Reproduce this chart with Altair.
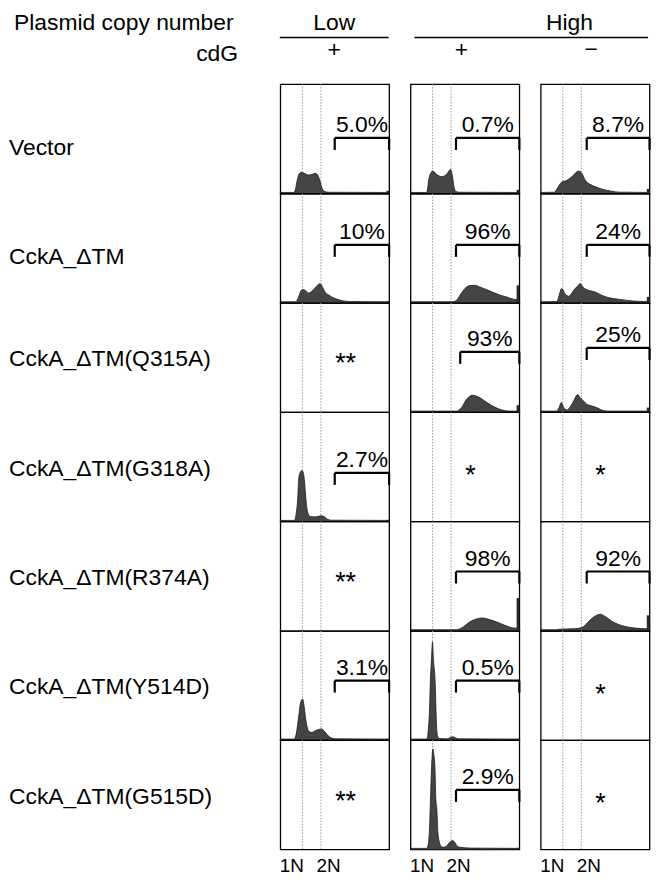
import altair as alt
import pandas as pd

# ------------------------------------------------------------------ data
STRAINS = ["Vector", "CckA_ΔTM", "CckA_ΔTM(Q315A)", "CckA_ΔTM(G318A)",
           "CckA_ΔTM(R374A)", "CckA_ΔTM(Y514D)", "CckA_ΔTM(G515D)"]
CONDITIONS = ["Low +", "High +", "High −"]
COPY_NUMBER = ["Low", "High"]
CDG = ["+", "+", "−"]
PLOIDY_LABELS = ["1N", "2N"]
PLOIDY_POS = [20.3, 37.3]          # DNA content of 1N / 2N (% of channel range)

# % of cells above the gate (or * / ** when not measured)
RESULT_LOW_PLUS = ["5.0%", "10%", "**", "2.7%", "**", "3.1%", "**"]
RESULT_HIGH_PLUS = ["0.7%", "96%", "93%", "*", "98%", "0.5%", "2.9%"]
RESULT_HIGH_MINUS = ["8.7%", "24%", "25%", "*", "92%", "*", "*"]

# gate start (DNA content) and gate bracket level (% of panel height)
GATE_LOW_PLUS = [50, 50, None, 50, None, 50, None]
GATE_HIGH_PLUS = [41.8, 41.8, 45.7, None, 41.8, 41.8, 41.8]
GATE_HIGH_MINUS = [42.3, 42.3, 42.3, None, 42.3, None, None]
LEVEL_LOW_PLUS = [50.9, 53.1, None, 44.5, None, 54.5, None]
LEVEL_HIGH_PLUS = [50.9, 53.1, 55.2, None, 54.3, 54.5, 54.5]
LEVEL_HIGH_MINUS = [50.9, 53.1, 58.8, None, 54.3, None, None]

# events piled up in the last channel (relative count)
OVERFLOW_LOW_PLUS = [2.5, 1.5, None, 1.5, None, 1.2, None]
OVERFLOW_HIGH_PLUS = [3.4, 16, 6.4, None, 30, 0, 1.5]
OVERFLOW_HIGH_MINUS = [4.2, 5.5, 4.2, None, 14.2, None, None]

# DNA-content histograms: x = DNA content, y = relative cell count
VEC_LP_X = [0, 12, 13.5, 15.5, 17, 19.3, 22, 26, 29, 32, 34, 36, 38, 40.5, 44, 100]
VEC_LP_Y = [1, 1, 2.5, 12, 17.5, 19.4, 18.5, 17, 17.5, 18.5, 17.5, 13, 6, 2, 1.2, 1]
VEC_HP_X = [0, 14.5, 15.5, 17, 18.5, 20.6, 24, 28.8, 33, 36.9, 38.5, 40, 41.5, 45, 100]
VEC_HP_Y = [1, 1, 3, 14, 18.5, 20.6, 17.5, 15.5, 17.5, 22.1, 16, 6, 2, 1.2, 1]
VEC_HM_X = [0, 12, 13.8, 16, 18.3, 19.8, 22.8, 28.8, 34.8, 37.8, 40.8, 45.3, 49.8, 55.9, 65, 72, 100]
VEC_HM_Y = [1, 1.2, 2.4, 6, 9.4, 10.9, 11.5, 15.5, 20.6, 18.5, 12.4, 8.5, 6.4, 4.2, 2.2, 1.3, 1]

DTM_LP_X = [0, 14, 15.5, 17, 19.3, 21.4, 24, 26, 30, 33, 36.5, 39, 41, 44, 47, 53, 58, 65, 100]
DTM_LP_Y = [1, 1, 2.5, 6, 11.5, 12.2, 10.5, 9.1, 11.5, 15, 17.6, 14, 10, 7.5, 5.5, 3.1, 1.8, 1.2, 1]
DTM_HP_X = [0, 38, 40.9, 42.4, 45.5, 50, 54.5, 59, 63.6, 69.7, 75.7, 81.8, 87.8, 92.4, 97, 100]
DTM_HP_Y = [1, 1, 1.5, 2.4, 7, 13.1, 15.8, 16.1, 14.6, 12.2, 9.7, 7.3, 5.5, 4, 3, 3]
DTM_HM_X = [0, 14.5, 16, 17.5, 19.2, 20.5, 22.5, 25.8, 28, 30.3, 33.5, 36.3, 39.3, 43.8, 49.8,
            55.9, 61.9, 70.9, 80, 90, 100]
DTM_HM_Y = [1, 1.2, 3.5, 9, 13.1, 12, 8, 6.1, 8, 11.5, 15, 17.6, 14, 11.5, 10,
            7, 4.9, 3.4, 2.2, 1.4, 1.2]

Q315A_HP_X = [0, 42, 44, 46.9, 51.5, 56.9, 62.1, 68.2, 74.2, 80.3, 86.4, 92, 100]
Q315A_HP_Y = [1, 1, 1.5, 4.2, 11.8, 15.5, 14.2, 10.3, 6.4, 3.3, 1.5, 1, 1]
Q315A_HM_X = [0, 14.5, 16.8, 18.9, 21.3, 24.3, 27.3, 30.3, 33.9, 36.3, 39.3, 42.3, 46.8, 51.4, 55.9, 62, 100]
Q315A_HM_Y = [1, 1, 4, 8.8, 4.2, 2.1, 5.2, 10.3, 16.1, 13.3, 10.3, 7.3, 5.8, 4.2, 2.1, 1, 1]

G318A_LP_X = [0, 13, 14.8, 16, 16.9, 18.3, 19.9, 21.3, 22, 23.5, 25, 27.5, 32, 36, 38, 41, 43.5, 47, 100]
G318A_LP_Y = [1, 1, 8.8, 20.9, 39, 45, 46.6, 44, 39, 20.9, 8.8, 4.5, 4.2, 5, 5.2, 4, 2, 1.2, 1]

R374A_HP_X = [0, 42, 43.9, 48.5, 54.5, 60.6, 66, 72.7, 78.8, 84.8, 90.9, 95, 100]
R374A_HP_Y = [1, 1, 1.3, 3.6, 8.2, 10.9, 11.8, 10.3, 8.2, 5.8, 3.6, 2.5, 2.3]
R374A_HM_X = [0, 14, 16.8, 31.8, 37.8, 42.3, 46.8, 51.4, 55, 58.9, 64.9, 70.9, 76.9, 82.9, 91.9, 100]
R374A_HM_Y = [1, 1, 1.5, 2, 3, 6.7, 11.2, 14.2, 15.2, 13.3, 9.1, 6.1, 4.2, 3, 2.1, 1.8]

Y514D_LP_X = [0, 12.5, 14.8, 16.9, 18.6, 20.5, 22, 23, 26, 29, 32, 35, 38, 41, 44, 47, 52, 100]
Y514D_LP_Y = [1, 1, 6.7, 21.8, 34, 37.6, 30, 21.8, 8.5, 7, 8.5, 9.7, 10.3, 7.5, 4, 2, 1.2, 1]
Y514D_HP_X = [0, 14.5, 15.5, 16.5, 17.5, 18.2, 19.3, 20.2, 21, 22.7, 23.4, 24, 25, 26.5,
              34, 36.5, 39, 41.5, 44, 100]
Y514D_HP_Y = [1, 1, 2, 12, 27.9, 52, 75, 90, 75, 52, 27.9, 12, 3.3, 1.5,
              1.2, 2.5, 3, 2, 1.2, 1]

G515D_HP_X = [0, 14.5, 15.8, 16.6, 17.5, 18.2, 19.4, 20.6, 21.3, 22.4, 23.3, 24.2, 25.2, 26.6,
              28.5, 30.3, 33, 36, 38.7, 41, 43, 45.5, 55, 66, 100]
G515D_HP_Y = [1, 1, 3, 6.6, 20, 40, 76, 92, 88, 76, 46, 37, 15, 6.6,
              2.5, 2.1, 3, 6.5, 8.2, 6, 3, 2, 1.3, 1.2, 1]

HISTOGRAMS = [
    (STRAINS[0], CONDITIONS[0], VEC_LP_X, VEC_LP_Y),
    (STRAINS[0], CONDITIONS[1], VEC_HP_X, VEC_HP_Y),
    (STRAINS[0], CONDITIONS[2], VEC_HM_X, VEC_HM_Y),
    (STRAINS[1], CONDITIONS[0], DTM_LP_X, DTM_LP_Y),
    (STRAINS[1], CONDITIONS[1], DTM_HP_X, DTM_HP_Y),
    (STRAINS[1], CONDITIONS[2], DTM_HM_X, DTM_HM_Y),
    (STRAINS[2], CONDITIONS[1], Q315A_HP_X, Q315A_HP_Y),
    (STRAINS[2], CONDITIONS[2], Q315A_HM_X, Q315A_HM_Y),
    (STRAINS[3], CONDITIONS[0], G318A_LP_X, G318A_LP_Y),
    (STRAINS[4], CONDITIONS[1], R374A_HP_X, R374A_HP_Y),
    (STRAINS[4], CONDITIONS[2], R374A_HM_X, R374A_HM_Y),
    (STRAINS[5], CONDITIONS[0], Y514D_LP_X, Y514D_LP_Y),
    (STRAINS[5], CONDITIONS[1], Y514D_HP_X, Y514D_HP_Y),
    (STRAINS[6], CONDITIONS[1], G515D_HP_X, G515D_HP_Y),
]

# ------------------------------------------------------------------ layout / style
FONT = "Liberation Sans"
PANEL_W = 109.5
PANEL_H = 110
COL_GAP = 21
LABEL_W = 272.5
HEADER_H = 73
TEXT_SIZE = 23
HEADER_SIZE = 23
AXIS_SIZE = 19
AXIS_PAD = 7
TICK_LEN = 11          # bracket tick length, % of panel height
EDGE_X0 = 97.5         # start of the last-channel bar
CHANNEL_MAX = 100
MID = (PLOIDY_POS[0] + PLOIDY_POS[1]) / 2
TOTAL_W = LABEL_W + 3 * PANEL_W + 2 * COL_GAP
LABEL_DROP_TOP = 16    # baseline drop below row centre, first two rows
LABEL_DROP = 9         # baseline drop below row centre, other rows


def col_left(i):
    return LABEL_W + i * (PANEL_W + COL_GAP)


def col_center(i):
    return col_left(i) + PANEL_W / 2


# ------------------------------------------------------------------ table
rows = []
for strain, cond, hx, hy in HISTOGRAMS:
    for x, y in zip(hx, hy):
        rows.append({"kind": "hist", "strain": strain, "cond": cond, "x": x, "y": y})
for strain in STRAINS:
    for cond in CONDITIONS:
        for p in PLOIDY_POS:
            rows.append({"kind": "guide", "strain": strain, "cond": cond, "x": p})
per_cond = zip(CONDITIONS,
               [RESULT_LOW_PLUS, RESULT_HIGH_PLUS, RESULT_HIGH_MINUS],
               [GATE_LOW_PLUS, GATE_HIGH_PLUS, GATE_HIGH_MINUS],
               [LEVEL_LOW_PLUS, LEVEL_HIGH_PLUS, LEVEL_HIGH_MINUS],
               [OVERFLOW_LOW_PLUS, OVERFLOW_HIGH_PLUS, OVERFLOW_HIGH_MINUS])
for cond, results, gates, levels, overflows in per_cond:
    for strain, r, g, lv, ov in zip(STRAINS, results, gates, levels, overflows):
        if g is None:
            rows.append({"kind": "star", "strain": strain, "cond": cond, "label": r})
        else:
            rows.append({"kind": "gate", "strain": strain, "cond": cond,
                         "x": g, "y": lv, "label": r})
        if ov:
            rows.append({"kind": "edge", "strain": strain, "cond": cond, "h": ov})
df = pd.DataFrame(rows)

# ------------------------------------------------------------------ panels
xscale = alt.Scale(domain=[0, CHANNEL_MAX], nice=False, zero=False)
yscale = alt.Scale(domain=[0, 100], nice=False, zero=False)
xaxis = alt.Axis(
    values=PLOIDY_POS,
    labelExpr=f"datum.value < {MID} ? '{PLOIDY_LABELS[0]}' : '{PLOIDY_LABELS[1]}'",
    domain=False, ticks=False, tickSize=0, grid=False,
    labelFontSize=AXIS_SIZE, labelPadding=AXIS_PAD, labelColor="black", labelFont=FONT,
    labelOverlap=False,
    labelAlign={"condition": {"test": f"datum.value < {MID}", "value": "right"}, "value": "left"},
    labelOffset={"condition": {"test": f"datum.value < {MID}", "value": 1}, "value": -5},
)


def X(field):
    return alt.X(field, type="quantitative", scale=xscale, axis=xaxis, title=None)


def Y(field):
    return alt.Y(field, type="quantitative", scale=yscale, axis=None, title=None)


base = alt.Chart()

guides = base.mark_rule(color="#9a9a9a", strokeWidth=1, strokeDash=[1.5, 1.5]).transform_filter(
    "datum.kind === 'guide'").encode(x=X("x"))

hist = base.mark_area(interpolate="monotone", color="#444444", stroke="#1a1a1a",
                      strokeWidth=0.8).transform_filter("datum.kind === 'hist'").encode(
    x=X("x"), y=Y("y"))

edge = base.mark_rect(color="#2a2a2a").transform_filter("datum.kind === 'edge'").transform_calculate(
    ex0=f"{EDGE_X0}", ex1=f"{CHANNEL_MAX}").encode(
    x=X("ex0"), x2="ex1:Q", y=Y("h"), y2=alt.datum(0))

gate_base = base.transform_filter("datum.kind === 'gate'").transform_calculate(
    xe=f"{CHANNEL_MAX}", yt=f"datum.y - {TICK_LEN}", xm=f"(datum.x + {CHANNEL_MAX}) / 2")

gate_h = gate_base.mark_rule(color="black", strokeWidth=2.2).encode(x=X("x"), x2="xe:Q", y=Y("y"))
gate_l = gate_base.mark_rule(color="black", strokeWidth=2.2).encode(x=X("x"), y=Y("y"), y2="yt:Q")
gate_r = gate_base.mark_rule(color="black", strokeWidth=2.2).encode(x=X("xe"), y=Y("y"), y2="yt:Q")
pct = gate_base.mark_text(align="center", baseline="alphabetic", dy=-6, fontSize=TEXT_SIZE,
                          font=FONT, color="black").encode(x=X("xm"), y=Y("y"), text="label:N")

stars = base.mark_text(align="center", baseline="middle", dy=7, fontSize=27, font=FONT,
                       color="black").transform_filter("datum.kind === 'star'").transform_calculate(
    sx="datum.label === '**' ? 60 : 55", sy="datum.label === '**' ? 50 : 48").encode(
    x=X("sx"), y=Y("sy"), text="label:N")

panels = alt.layer(guides, hist, edge, gate_h, gate_l, gate_r, pct, stars, data=df).properties(
    width=PANEL_W, height=PANEL_H)

grid = panels.facet(
    row=alt.Row("strain:N", sort=STRAINS, header=None),
    column=alt.Column("cond:N", sort=CONDITIONS, header=None),
    spacing={"row": 0, "column": COL_GAP},
    bounds="flush",
)

# ------------------------------------------------------------------ row labels
label_y = alt.Y("strain:N", sort=STRAINS, axis=None,
                scale=alt.Scale(type="band", paddingInner=0, paddingOuter=0))
label_base = alt.Chart(pd.DataFrame({"strain": STRAINS})).encode(
    y=label_y, x=alt.value(0), text="strain:N")
top_rows = alt.FieldOneOfPredicate(field="strain", oneOf=STRAINS[:2])
labels = alt.layer(
    label_base.mark_text(align="left", baseline="alphabetic", dy=LABEL_DROP_TOP,
                         fontSize=TEXT_SIZE, font=FONT, color="black").transform_filter(top_rows),
    label_base.mark_text(align="left", baseline="alphabetic", dy=LABEL_DROP,
                         fontSize=TEXT_SIZE, font=FONT, color="black").transform_filter(
        {"not": top_rows}),
).properties(width=LABEL_W, height=PANEL_H * len(STRAINS),
             view=alt.ViewBackground(stroke="transparent"))

# ------------------------------------------------------------------ header
dummy = pd.DataFrame({"o": [0]})


def htext(txt, x, y, align):
    return alt.Chart(dummy).mark_text(text=txt, align=align, baseline="alphabetic",
                                      fontSize=HEADER_SIZE, font=FONT, color="black").encode(
        x=alt.value(x), y=alt.value(y))


def hrule(x1, x2, y):
    return alt.Chart(dummy).mark_rule(color="black", strokeWidth=1.6).encode(
        x=alt.value(x1), x2=alt.value(x2), y=alt.value(y))


header = alt.layer(
    htext("Plasmid copy number", 5, 18.5, "left"),
    htext(COPY_NUMBER[0], col_center(0), 18.5, "center"),
    htext(COPY_NUMBER[1], (col_left(1) + TOTAL_W) / 2 + 41, 18.5, "center"),
    hrule(col_left(0), col_left(0) + PANEL_W, 26),
    hrule(col_left(1) + 5, TOTAL_W, 26),
    htext("cdG", col_left(0) - 42, 50, "right"),
    htext(CDG[0], col_center(0), 45.5, "center"),
    htext(CDG[1], col_center(1) - 2.5, 45.5, "center"),
    htext(CDG[2], col_center(2) - 2.5, 45.5, "center"),
).properties(width=TOTAL_W, height=HEADER_H,
             view=alt.ViewBackground(stroke="transparent"))

chart = alt.vconcat(
    header,
    alt.hconcat(labels, grid, spacing=0, bounds="flush"),
    spacing=0, bounds="flush",
).properties(padding=0, background="white").configure(font=FONT).configure_view(
    stroke="black", strokeWidth=1.3)

chart.save("out.html", embed_options={"renderer": "svg", "actions": False})
